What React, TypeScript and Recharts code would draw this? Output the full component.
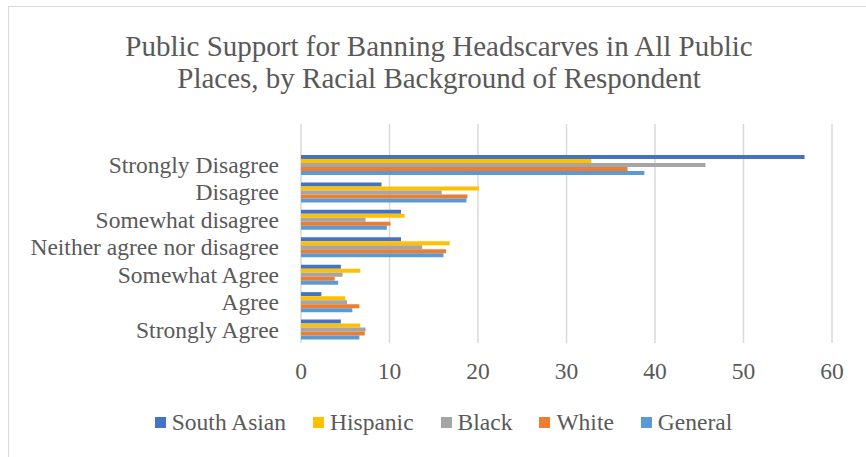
import React from 'react';
import { BarChart, Bar, XAxis, YAxis, CartesianGrid } from 'recharts';

const categories = [
  'Strongly Disagree',
  'Disagree',
  'Somewhat disagree',
  'Neither agree nor disagree',
  'Somewhat Agree',
  'Agree',
  'Strongly Agree',
];

const southAsian = [56.9, 9.1, 11.3, 11.3, 4.5, 2.3, 4.5];
const hispanic = [32.8, 20.1, 11.7, 16.8, 6.7, 5.0, 6.7];
const black = [45.7, 15.9, 7.3, 13.7, 4.7, 5.2, 7.3];
const white = [36.9, 18.8, 10.1, 16.4, 3.8, 6.6, 7.2];
const general = [38.8, 18.7, 9.7, 16.1, 4.2, 5.8, 6.6];

const xTicks = [0, 10, 20, 30, 40, 50, 60];

const series = [
  { key: 'southAsian', name: 'South Asian', color: '#4472C4' },
  { key: 'hispanic', name: 'Hispanic', color: '#FFC000' },
  { key: 'black', name: 'Black', color: '#A5A5A5' },
  { key: 'white', name: 'White', color: '#ED7D31' },
  { key: 'general', name: 'General', color: '#5B9BD5' },
];

const data = categories.map((category, i) => ({
  category,
  southAsian: southAsian[i],
  hispanic: hispanic[i],
  black: black[i],
  white: white[i],
  general: general[i],
}));

const FONT = '"Liberation Serif", "Times New Roman", serif';
const TEXT = '#595959';

export default function App() {
  return (
    <div
      style={{
        position: 'fixed',
        left: 0,
        top: 0,
        width: 866,
        height: 457,
        overflow: 'hidden',
        background: '#fff',
        fontFamily: FONT,
      }}
    >
      {/* chart frame, runs past the right and bottom edge */}
      <div
        style={{
          position: 'absolute',
          left: 8,
          top: 6,
          width: 900,
          height: 500,
          border: '1.5px solid #d9d9d9',
        }}
      />
      <div
        style={{
          position: 'absolute',
          left: 0,
          top: 30,
          width: 878,
          textAlign: 'center',
          fontSize: 29,
          lineHeight: '32px',
          color: TEXT,
        }}
      >
        Public Support for Banning Headscarves in All Public
        <br />
        Places, by Racial Background of Respondent
      </div>
      <div style={{ position: 'absolute', left: 0, top: 0 }}>
        <BarChart
          width={866}
          height={457}
          data={data}
          layout="vertical"
          barSize={4}
          barGap={0}
          margin={{ top: 124, right: 34, bottom: 74, left: 11 }}
        >
          <CartesianGrid horizontal={false} stroke="#d9d9d9" strokeWidth={1.5} />
          <XAxis
            type="number"
            domain={[0, 60]}
            ticks={xTicks}
            axisLine={false}
            tickLine={false}
            tickMargin={13}
            height={40}
            tick={{ fill: TEXT, fontSize: 23.5, fontFamily: FONT }}
          />
          <YAxis
            type="category"
            dataKey="category"
            width={290}
            axisLine={false}
            tickLine={false}
            tickMargin={16}
            interval={0}
            padding={{ top: 27 }}
            tick={{ fill: TEXT, fontSize: 23.5, fontFamily: FONT }}
          />
          {series.map((s) => (
            <Bar key={s.key} dataKey={s.key} name={s.name} fill={s.color} isAnimationActive={false} />
          ))}
        </BarChart>
      </div>
      <div
        style={{
          position: 'absolute',
          left: 0,
          top: 408,
          width: 887,
          display: 'flex',
          justifyContent: 'center',
          alignItems: 'center',
          fontSize: 23.5,
          lineHeight: '28px',
          color: TEXT,
        }}
      >
        {series.map((s, i) => (
          <div
            key={s.key}
            style={{ display: 'flex', alignItems: 'center', flexShrink: 0, marginRight: i < series.length - 1 ? 27 : 0 }}
          >
            <svg width={11} height={11} style={{ display: 'block', flexShrink: 0, marginRight: 6 }}>
              <rect x={0} y={0} width={11} height={11} fill={s.color} />
            </svg>
            <span style={{ whiteSpace: 'nowrap' }}>{s.name}</span>
          </div>
        ))}
      </div>
    </div>
  );
}
